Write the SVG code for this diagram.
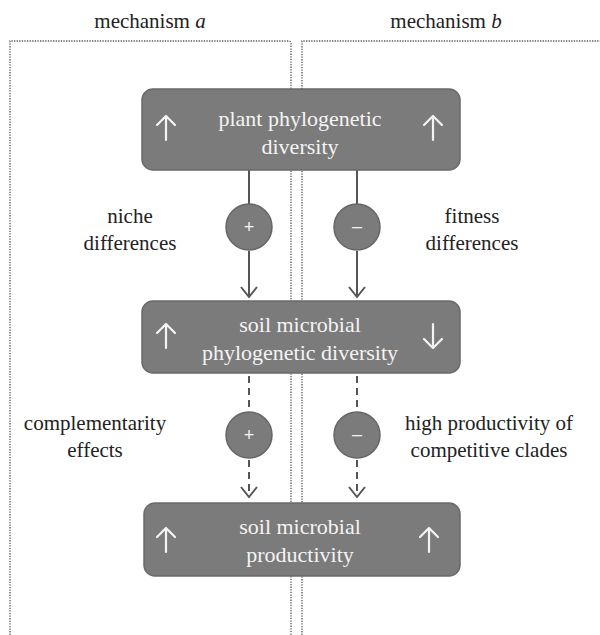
<svg xmlns="http://www.w3.org/2000/svg" width="600" height="635" viewBox="0 0 600 635">
<defs>
<marker id="vhead" viewBox="-2 -10 14 20" refX="10" refY="0" markerWidth="14" markerHeight="20" markerUnits="userSpaceOnUse" orient="auto" overflow="visible">
<path d="M0,-8 L10,0 L0,8" fill="none" stroke="#555" stroke-width="2" stroke-dasharray="none"/>
</marker>
</defs>
<g id="frames" fill="none" stroke="#555" stroke-width="1.3" stroke-dasharray="1.3 1.3">
<path d="M10,635 V41 H289 Q291,41 291,44 V635"/>
<path d="M302,635 V41 H600"/>
</g>
<g id="titles" font-family="Liberation Serif" font-size="21" fill="#222" text-anchor="middle">
<text x="150" y="28" font-family="Liberation Serif">mechanism <tspan font-style="italic">a</tspan></text>
<text x="446" y="28" font-family="Liberation Serif">mechanism <tspan font-style="italic">b</tspan></text>
</g>
<g id="connectors" fill="none" stroke="#555" stroke-width="2">
<line x1="249" y1="170" x2="249" y2="204"/>
<line x1="249" y1="251" x2="249" y2="297" marker-end="url(#vhead)"/>
<line x1="357" y1="170" x2="357" y2="204"/>
<line x1="357" y1="251" x2="357" y2="297" marker-end="url(#vhead)"/>
<g stroke-dasharray="7 5">
<line x1="249" y1="376" x2="249" y2="412"/>
<line x1="249" y1="460" x2="249" y2="497" marker-end="url(#vhead)"/>
<line x1="357" y1="376" x2="357" y2="412"/>
<line x1="357" y1="460" x2="357" y2="497" marker-end="url(#vhead)"/>
</g>
</g>
<g font-family="Liberation Sans" font-size="18" text-anchor="middle">
<g id="sign-plus-1"><circle cx="249" cy="227" r="23" fill="#7b7b7b" stroke="#666" stroke-width="1.5"/><text x="249" y="233" font-family="Liberation Sans" fill="#f4f4f4">+</text></g>
<g id="sign-minus-1"><circle cx="357" cy="227" r="23" fill="#7b7b7b" stroke="#666" stroke-width="1.5"/><text x="357" y="232" font-family="Liberation Sans" fill="#f4f4f4">–</text></g>
<g id="sign-plus-2"><circle cx="249" cy="435" r="23" fill="#7b7b7b" stroke="#666" stroke-width="1.5"/><text x="249" y="441" font-family="Liberation Sans" fill="#f4f4f4">+</text></g>
<g id="sign-minus-2"><circle cx="357" cy="435" r="23" fill="#7b7b7b" stroke="#666" stroke-width="1.5"/><text x="357" y="440" font-family="Liberation Sans" fill="#f4f4f4">–</text></g>
</g>
<g font-family="Liberation Serif" font-size="21" fill="#222" text-anchor="middle">
<g id="label-niche"><text x="130" y="223" font-family="Liberation Serif">niche</text><text x="130" y="250" font-family="Liberation Serif">differences</text></g>
<g id="label-fitness"><text x="472" y="223" font-family="Liberation Serif">fitness</text><text x="472" y="250" font-family="Liberation Serif">differences</text></g>
<g id="label-complementarity"><text x="95" y="430" font-family="Liberation Serif">complementarity</text><text x="95" y="457" font-family="Liberation Serif">effects</text></g>
<g id="label-competitive"><text x="489" y="430" font-family="Liberation Serif">high productivity of</text><text x="489" y="457" font-family="Liberation Serif">competitive clades</text></g>
</g>
<g font-family="Liberation Serif" font-size="22" text-anchor="middle">
<g id="node-plant">
<rect x="142" y="89" width="318" height="81" rx="11" fill="#7b7b7b" stroke="#6a6a6a" stroke-width="1.5"/>
<text x="300" y="126" font-family="Liberation Serif" fill="#f4f4f4">plant  phylogenetic</text>
<text x="300" y="154" font-family="Liberation Serif" fill="#f4f4f4">diversity</text>
<path d="M166,140 V116 M157,125 L166,116 L175,125" fill="none" stroke="#f4f4f4" stroke-width="2.2" stroke-linecap="round" stroke-linejoin="round"/>
<path d="M433,140 V116 M424,125 L433,116 L442,125" fill="none" stroke="#f4f4f4" stroke-width="2.2" stroke-linecap="round" stroke-linejoin="round"/>
</g>
<g id="node-microbial-diversity">
<rect x="142" y="301" width="318" height="72" rx="11" fill="#7b7b7b" stroke="#6a6a6a" stroke-width="1.5"/>
<text x="300" y="332" font-family="Liberation Serif" fill="#f4f4f4">soil microbial</text>
<text x="300" y="360" font-family="Liberation Serif" fill="#f4f4f4">phylogenetic diversity</text>
<path d="M166,348 V324 M157,333 L166,324 L175,333" fill="none" stroke="#f4f4f4" stroke-width="2.2" stroke-linecap="round" stroke-linejoin="round"/>
<path d="M433,324 V348 M424,339 L433,348 L442,339" fill="none" stroke="#f4f4f4" stroke-width="2.2" stroke-linecap="round" stroke-linejoin="round"/>
</g>
<g id="node-productivity">
<rect x="144" y="503" width="316" height="73" rx="11" fill="#7b7b7b" stroke="#6a6a6a" stroke-width="1.5"/>
<text x="300" y="534" font-family="Liberation Serif" fill="#f4f4f4">soil microbial</text>
<text x="300" y="562" font-family="Liberation Serif" fill="#f4f4f4">productivity</text>
<path d="M166,552 V528 M157,537 L166,528 L175,537" fill="none" stroke="#f4f4f4" stroke-width="2.2" stroke-linecap="round" stroke-linejoin="round"/>
<path d="M429,552 V528 M420,537 L429,528 L438,537" fill="none" stroke="#f4f4f4" stroke-width="2.2" stroke-linecap="round" stroke-linejoin="round"/>
</g>
</g>
</svg>
